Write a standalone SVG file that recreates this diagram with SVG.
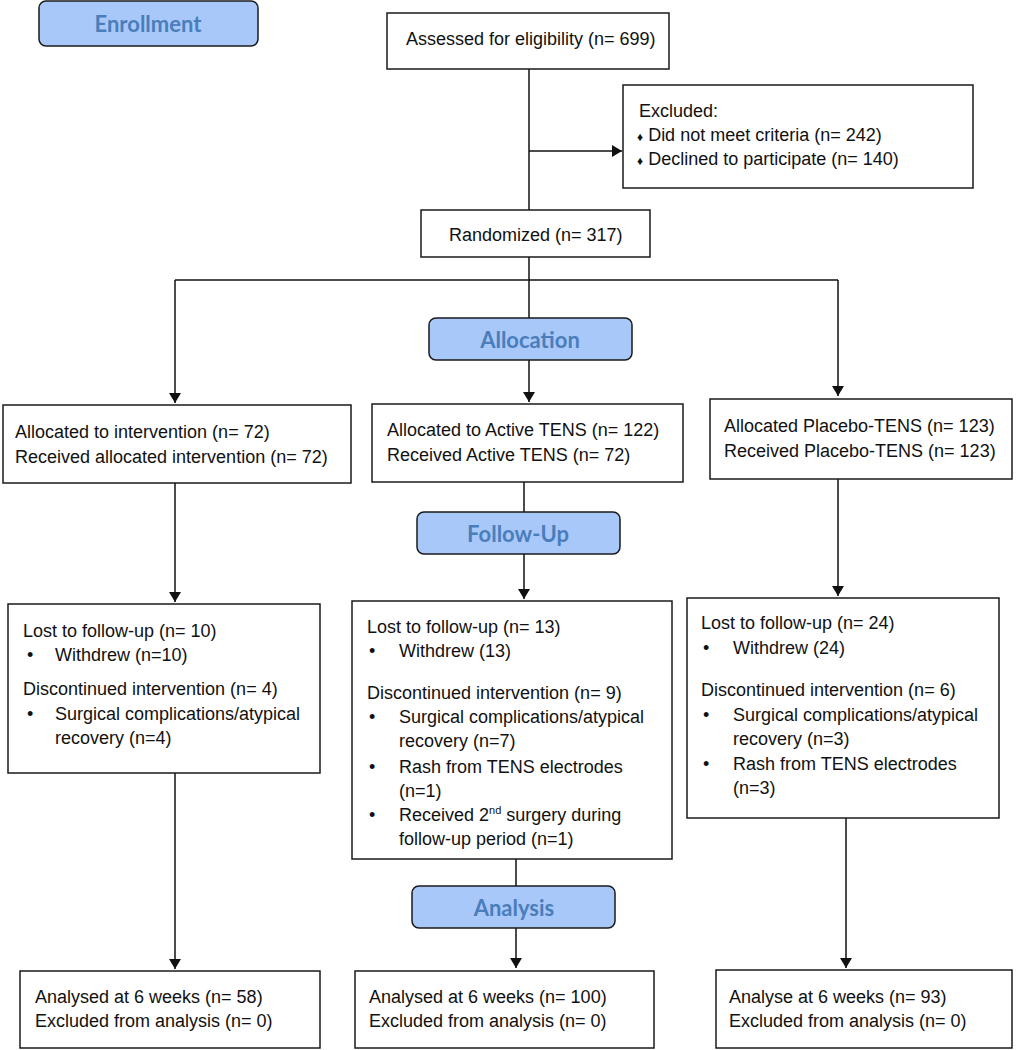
<svg xmlns="http://www.w3.org/2000/svg" width="1022" height="1050" viewBox="0 0 1022 1050">
<style>
.box{fill:#fff;stroke:#1a1a1a;stroke-width:1.5}
.hdr{fill:#a9c8fa;stroke:#1a1a1a;stroke-width:1.5}
.ht{font-family:Lato,"Open Sans",sans-serif;font-weight:bold;font-size:22px;fill:#4a7ebb;text-anchor:middle}
.t{font-family:"Liberation Sans",Arial,sans-serif;font-size:18px;fill:#111}
.ln{stroke:#111;stroke-width:1.5;fill:none}
</style>
<defs>
<marker id="ah" markerWidth="10" markerHeight="12" refX="10" refY="6" orient="auto" markerUnits="userSpaceOnUse">
<path d="M0,0 L10,6 L0,12 Z" fill="#111"/>
</marker>
</defs>
<g id="connectors">
<path class="ln" d="M529,69 V210"/>
<path class="ln" d="M529,151 H622" marker-end="url(#ah)"/>
<path class="ln" d="M529,257 V318"/>
<path class="ln" d="M175,280 H838"/>
<path class="ln" d="M175,280 V403" marker-end="url(#ah)"/>
<path class="ln" d="M529,360 V402" marker-end="url(#ah)"/>
<path class="ln" d="M838,280 V396" marker-end="url(#ah)"/>
<path class="ln" d="M175,483 V602" marker-end="url(#ah)"/>
<path class="ln" d="M524,482 V512"/>
<path class="ln" d="M524,554 V599" marker-end="url(#ah)"/>
<path class="ln" d="M838,479 V596" marker-end="url(#ah)"/>
<path class="ln" d="M175,773 V969" marker-end="url(#ah)"/>
<path class="ln" d="M516,859 V886"/>
<path class="ln" d="M516,928 V968" marker-end="url(#ah)"/>
<path class="ln" d="M846,818 V968" marker-end="url(#ah)"/>
</g>
<g id="enrollment"><rect class="hdr" x="39" y="1" width="219" height="45" rx="7"/><text class="ht" x="148" y="32" font-size="23">Enrollment</text></g>
<g id="assessed"><rect class="box" x="387" y="13" width="282" height="56"/><text class="t" x="406" y="45" font-size="17">Assessed for eligibility (n= 699)</text></g>
<g id="excluded"><rect class="box" x="623" y="85" width="350" height="103"/>
<text class="t" x="639" y="117">Excluded:</text>
<text class="t" x="637" y="141"><tspan font-size="12">♦</tspan> Did not meet criteria (n= 242)</text>
<text class="t" x="637" y="165"><tspan font-size="12">♦</tspan> Declined to participate (n= 140)</text></g>
<g id="randomized"><rect class="box" x="421" y="210" width="229" height="47"/><text class="t" x="449" y="241">Randomized (n= 317)</text></g>
<g id="allocation"><rect class="hdr" x="429" y="318" width="203" height="42" rx="7"/><text class="ht" x="530" y="348">Allocation</text></g>
<g id="alloc-left"><rect class="box" x="3" y="405" width="348" height="78"/>
<text class="t" x="15" y="438">Allocated to intervention (n= 72)</text>
<text class="t" x="15" y="463">Received allocated intervention (n= 72)</text></g>
<g id="alloc-mid"><rect class="box" x="372" y="404" width="311" height="78"/>
<text class="t" x="387" y="436">Allocated to Active TENS (n= 122)</text>
<text class="t" x="387" y="461">Received Active TENS (n= 72)</text></g>
<g id="alloc-right"><rect class="box" x="710" y="399" width="302" height="80"/>
<text class="t" x="724" y="432">Allocated Placebo-TENS (n= 123)</text>
<text class="t" x="724" y="457">Received Placebo-TENS (n= 123)</text></g>
<g id="followup"><rect class="hdr" x="417" y="512" width="203" height="42" rx="7"/><text class="ht" x="518" y="542">Follow-Up</text></g>
<g id="fu-left"><rect class="box" x="8" y="604" width="312" height="169"/>
<text class="t" x="23" y="637">Lost to follow-up (n= 10)</text>
<text class="t" x="27" y="661">•</text><text class="t" x="55" y="661">Withdrew (n=10)</text>
<text class="t" x="23" y="695">Discontinued intervention (n= 4)</text>
<text class="t" x="27" y="720">•</text><text class="t" x="55" y="720">Surgical complications/atypical</text>
<text class="t" x="55" y="744">recovery (n=4)</text></g>
<g id="fu-mid"><rect class="box" x="352" y="601" width="320" height="258"/>
<text class="t" x="367" y="633">Lost to follow-up (n= 13)</text>
<text class="t" x="369" y="657">•</text><text class="t" x="399" y="657">Withdrew (13)</text>
<text class="t" x="367" y="699">Discontinued intervention (n= 9)</text>
<text class="t" x="369" y="723">•</text><text class="t" x="399" y="723">Surgical complications/atypical</text>
<text class="t" x="399" y="747">recovery (n=7)</text>
<text class="t" x="369" y="773">•</text><text class="t" x="399" y="773">Rash from TENS electrodes</text>
<text class="t" x="399" y="797">(n=1)</text>
<text class="t" x="369" y="821">•</text><text class="t" x="399" y="821">Received 2<tspan font-size="11" dy="-7">nd</tspan><tspan dy="7"> surgery during</tspan></text>
<text class="t" x="399" y="845">follow-up period (n=1)</text></g>
<g id="fu-right"><rect class="box" x="687" y="598" width="312" height="220"/>
<text class="t" x="701" y="629">Lost to follow-up (n= 24)</text>
<text class="t" x="703" y="654">•</text><text class="t" x="733" y="654">Withdrew (24)</text>
<text class="t" x="701" y="696">Discontinued intervention (n= 6)</text>
<text class="t" x="703" y="721">•</text><text class="t" x="733" y="721">Surgical complications/atypical</text>
<text class="t" x="733" y="745">recovery (n=3)</text>
<text class="t" x="703" y="770">•</text><text class="t" x="733" y="770">Rash from TENS electrodes</text>
<text class="t" x="733" y="794">(n=3)</text></g>
<g id="analysis"><rect class="hdr" x="412" y="886" width="203" height="42" rx="7"/><text class="ht" x="514" y="916">Analysis</text></g>
<g id="an-left"><rect class="box" x="20" y="971" width="300" height="77"/>
<text class="t" x="35" y="1003">Analysed at 6 weeks (n= 58)</text>
<text class="t" x="35" y="1027">Excluded from analysis (n= 0)</text></g>
<g id="an-mid"><rect class="box" x="355" y="971" width="299" height="77"/>
<text class="t" x="369" y="1003">Analysed at 6 weeks (n= 100)</text>
<text class="t" x="369" y="1027">Excluded from analysis (n= 0)</text></g>
<g id="an-right"><rect class="box" x="716" y="970" width="296" height="78"/>
<text class="t" x="729" y="1003">Analyse at 6 weeks (n= 93)</text>
<text class="t" x="729" y="1027">Excluded from analysis (n= 0)</text></g>
</svg>
